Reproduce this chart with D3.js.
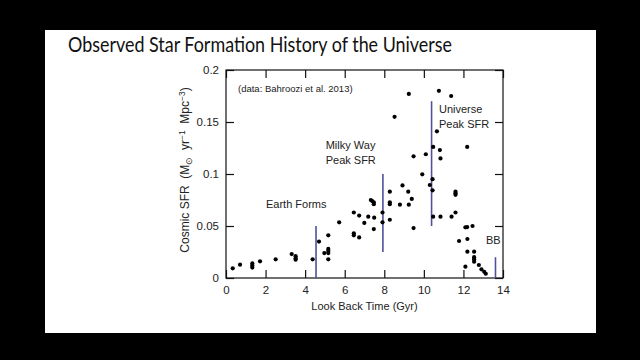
<!DOCTYPE html>
<html lang="en">
<head>
<meta charset="utf-8">
<title>Observed Star Formation History of the Universe</title>
<script src="https://d3js.org/d3.v7.min.js"></script>
<style>
  body { margin: 0; background: #000; }
  text { font-family: "Liberation Sans", Arial, sans-serif; fill: #222; }
  .title { font-family: Lato, "Open Sans", sans-serif; fill: #111; }
  .frame { fill: none; stroke: #111; stroke-width: 1.2; }
  .tick line { stroke: #111; stroke-width: 1.2; }
  .axis .domain { stroke: none; }
  .marker { stroke: #50509c; stroke-width: 1.6; }
</style>
</head>
<body>
<script>
// look back time (Gyr) and cosmic SFR
var lookback = [0.34, 0.71, 1.33, 1.33, 1.33, 1.72, 2.51, 3.32, 3.52, 3.52, 3.52, 4.38,
  4.70, 4.97, 5.17, 5.17, 5.17, 5.17, 5.17, 5.72, 6.46, 6.46, 6.46, 6.73, 6.73, 6.99,
  7.19, 7.32, 7.39, 7.47, 7.47, 7.49, 7.47, 7.91, 7.91, 8.28, 8.28, 8.28, 8.28, 8.79,
  8.92, 9.21, 9.24, 9.39, 9.48, 8.52, 9.24, 9.48, 9.92, 10.30, 10.44, 10.44, 10.47,
  10.84, 11.40, 11.60, 11.60, 11.60, 11.60, 11.78, 12.10, 12.19, 12.46, 12.20, 12.20,
  12.10, 12.54, 12.54, 12.54, 12.54, 12.78, 12.91, 13.05, 13.13, 10.76, 11.38, 10.66,
  10.47, 10.81, 10.84, 12.19, 10.10];
var sfr = [0.0093, 0.0128, 0.014, 0.012, 0.010, 0.016, 0.018, 0.023, 0.021, 0.019, 0.0176, 0.018,
  0.035, 0.024, 0.041, 0.028, 0.026, 0.024, 0.018, 0.0535, 0.063, 0.043, 0.041, 0.060, 0.039, 0.053,
  0.059, 0.075, 0.074, 0.0728, 0.071, 0.058, 0.047, 0.063, 0.0535, 0.083, 0.0728, 0.071, 0.056, 0.0705,
  0.089, 0.083, 0.0705, 0.076, 0.048, 0.155, 0.177, 0.117, 0.0997, 0.0894, 0.095, 0.0843, 0.059,
  0.059, 0.059, 0.063, 0.083, 0.0814, 0.080, 0.0356, 0.0487, 0.049, 0.050, 0.0375, 0.0253,
  0.0109, 0.0253, 0.020, 0.018, 0.0157, 0.0125, 0.0083, 0.006, 0.0041, 0.180, 0.175, 0.141,
  0.126, 0.123, 0.115, 0.126, 0.119];

// event markers
var markerTimes = [4.55, 7.93, 10.39, 13.62];
var markerLow = [0, 0.025, 0.05, 0];
var markerHigh = [0.05, 0.1, 0.17, 0.02];
var markerLabels = [["Earth Forms"], ["Milky Way", "Peak SFR"], ["Universe", "Peak SFR"], ["BB"]];

var xTicks = [0, 2, 4, 6, 8, 10, 12, 14];
var yTicks = [0, 0.05, 0.1, 0.15, 0.2];

var w = 640, h = 360;
var margin = {top: 70, right: 137, bottom: 82, left: 226};
var innerW = w - margin.left - margin.right,
    innerH = h - margin.top - margin.bottom;

var x = d3.scaleLinear().domain([0, 14]).range([0, innerW]);
var y = d3.scaleLinear().domain([0, 0.2]).range([innerH, 0]);

var svg = d3.select('body').append('svg')
    .attr('width', w)
    .attr('height', h);

svg.append('rect')
    .attr('x', 45).attr('y', 30)
    .attr('width', 551).attr('height', 303)
    .attr('fill', '#fff');

svg.append('text')
    .attr('class', 'title')
    .attr('x', 68).attr('y', 52)
    .attr('textLength', 384)
    .attr('lengthAdjust', 'spacingAndGlyphs')
    .style('font-size', '22px')
    .text('Observed Star Formation History of the Universe');

var g = svg.append('g')
    .attr('transform', 'translate(' + [margin.left, margin.top] + ')');

// ticks point inward on all four sides
var fmtY = function(d) { return d === 0 ? '0' : String(d); };
g.append('g').attr('class', 'axis')
    .attr('transform', 'translate(0,' + innerH + ')')
    .call(d3.axisBottom(x).tickValues(xTicks).tickSize(-8).tickPadding(8))
    .selectAll('text').style('font-size', '11.5px').attr('fill', '#222');
g.append('g').attr('class', 'axis')
    .call(d3.axisTop(x).tickValues(xTicks).tickSize(-8).tickFormat(''));
g.append('g').attr('class', 'axis')
    .call(d3.axisLeft(y).tickValues(yTicks).tickSize(-8).tickPadding(7).tickFormat(fmtY))
    .selectAll('text').style('font-size', '11.5px').attr('fill', '#222');
g.append('g').attr('class', 'axis')
    .attr('transform', 'translate(' + innerW + ',0)')
    .call(d3.axisRight(y).tickValues(yTicks).tickSize(-8).tickFormat(''));

g.append('rect').attr('class', 'frame')
    .attr('width', innerW).attr('height', innerH);

// event lines
g.selectAll('.marker')
    .data(markerTimes)
  .enter().append('line')
    .attr('class', 'marker')
    .attr('x1', function(d) { return x(d); })
    .attr('x2', function(d) { return x(d); })
    .attr('y1', function(d, i) { return y(markerLow[i]); })
    .attr('y2', function(d, i) { return y(markerHigh[i]); });

var labelPos = [[40, 137.7], [99.7, 79], [213, 42.5], [260, 174]];
g.selectAll('.mlabel')
    .data(markerLabels)
  .enter().append('text')
    .attr('class', 'mlabel')
    .style('font-size', '11px')
    .each(function(lines, i) {
      var t = d3.select(this);
      lines.forEach(function(s, j) {
        t.append('tspan')
          .attr('x', labelPos[i][0])
          .attr('y', labelPos[i][1] + j * 15)
          .text(s);
      });
    });

// data points
g.selectAll('.dot')
    .data(lookback)
  .enter().append('circle')
    .attr('class', 'dot')
    .attr('cx', function(d) { return x(d); })
    .attr('cy', function(d, i) { return y(sfr[i]); })
    .attr('r', 2.1)
    .attr('fill', '#000');

g.append('text')
    .attr('x', 12).attr('y', 22)
    .style('font-size', '9.5px')
    .text('(data: Bahroozi et al. 2013)');

g.append('text')
    .attr('x', innerW / 2).attr('y', innerH + 32)
    .attr('text-anchor', 'middle')
    .style('font-size', '11px')
    .text('Look Back Time (Gyr)');

var yl = svg.append('text')
    .attr('transform', 'translate(189,170) rotate(-90)')
    .attr('text-anchor', 'middle')
    .style('font-size', '12px')
    .attr('xml:space', 'preserve');
yl.append('tspan').text('Cosmic SFR  (M');
yl.append('tspan').attr('dy', 3).style('font-size', '8.5px').text('\u2299');
yl.append('tspan').attr('dy', -3).text('  yr');
yl.append('tspan').attr('dy', -4).style('font-size', '8.5px').text('\u22121');
yl.append('tspan').attr('dy', 4).text('  Mpc');
yl.append('tspan').attr('dy', -4).style('font-size', '8.5px').text('\u22123');
yl.append('tspan').attr('dy', 4).text(')');
</script>
</body>
</html>
